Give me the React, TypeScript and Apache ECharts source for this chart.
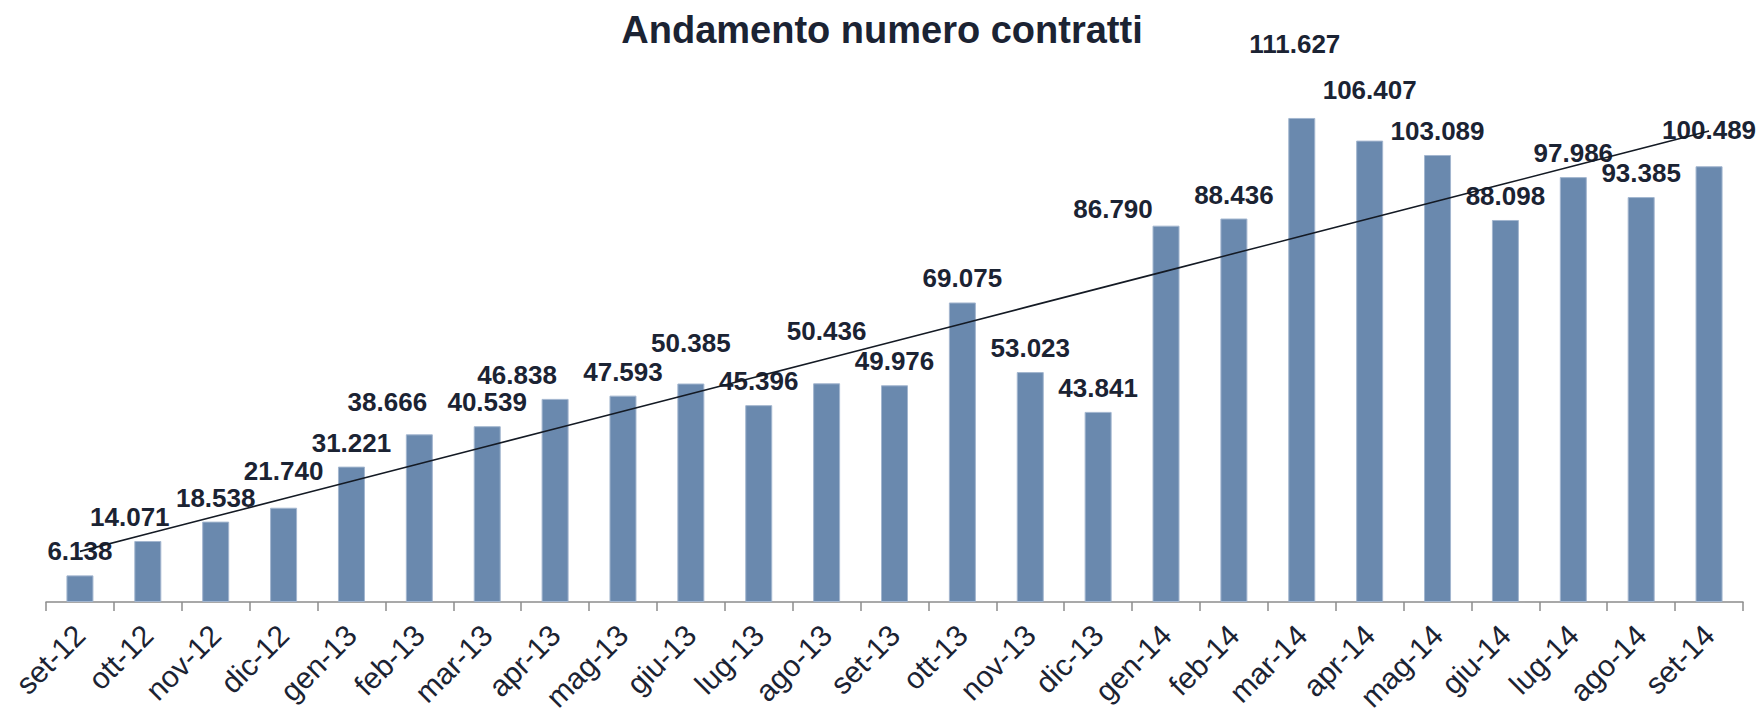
import React, { useEffect, useRef } from "react";
import * as echarts from "echarts";

const months: string[] = [
  "set-12", "ott-12", "nov-12", "dic-12", "gen-13", "feb-13", "mar-13", "apr-13",
  "mag-13", "giu-13", "lug-13", "ago-13", "set-13", "ott-13", "nov-13", "dic-13",
  "gen-14", "feb-14", "mar-14", "apr-14", "mag-14", "giu-14", "lug-14", "ago-14", "set-14",
];

const contracts: number[] = [
  6138, 14071, 18538, 21740, 31221, 38666, 40539, 46838,
  47593, 50385, 45396, 50436, 49976, 69075, 53023, 43841,
  86790, 88436, 111627, 106407, 103089, 88098, 97986, 93385, 100489,
];

// label nudges (style only, px): [dx, dy]
const labelNudges: [number, number][] = [
  [0, 0], [-18, 0], [0, 0], [0, -13], [0, 0], [-32, -8], [0, 0], [-38, 0],
  [0, 0], [0, -17], [0, 0], [0, -28], [0, 0], [0, 0], [0, 0], [0, 0],
  [-53, 7], [0, 0], [-7, -50], [0, -27], [0, 0], [0, 0], [0, 0], [0, 0], [0, -12],
];

const TEXT = "#1b2333";

function fmt(v: number): string {
  return String(v).replace(/\B(?=(\d{3})+(?!\d))/g, ".");
}

function linearTrend(ys: number[]): number[] {
  const n = ys.length;
  const xs = ys.map((_, i) => i + 1);
  const mx = xs.reduce((a, b) => a + b, 0) / n;
  const my = ys.reduce((a, b) => a + b, 0) / n;
  let sxy = 0;
  let sxx = 0;
  for (let i = 0; i < n; i++) {
    sxy += (xs[i] - mx) * (ys[i] - my);
    sxx += (xs[i] - mx) * (xs[i] - mx);
  }
  const slope = sxy / sxx;
  const icpt = my - slope * mx;
  return xs.map((x) => icpt + slope * x);
}

export default function App() {
  const ref = useRef<HTMLDivElement>(null);

  useEffect(() => {
    if (!ref.current) return;
    const chart = echarts.init(ref.current, undefined, { renderer: "svg" });
    const trend = linearTrend(contracts);
    chart.setOption({
      animation: false,
      backgroundColor: "#ffffff",
      title: {
        text: "Andamento numero contratti",
        left: "center",
        top: 6,
        textStyle: {
          fontFamily: "Liberation Sans, Arial, sans-serif",
          fontSize: 38,
          fontWeight: "bold",
          color: TEXT,
        },
      },
      grid: {
        left: 46,
        right: 21,
        top: 38.3,
        bottom: 112,
        containLabel: false,
        outerBoundsMode: "none",
      },
      xAxis: {
        type: "category",
        data: months,
        boundaryGap: true,
        axisLine: { lineStyle: { color: "#8c8c8c", width: 1.5 } },
        axisTick: { show: true, length: 9, lineStyle: { color: "#8c8c8c", width: 1.5 } },
        axisLabel: {
          interval: 0,
          rotate: 45,
          margin: 28,
          fontFamily: "Liberation Sans, Arial, sans-serif",
          fontSize: 30,
          color: TEXT,
        },
      },
      yAxis: {
        type: "value",
        min: 0,
        max: 130000,
        show: false,
        splitLine: { show: false },
      },
      series: [
        {
          type: "bar",
          name: "Contratti",
          data: contracts.map((v, i) => ({
            value: v,
            label: { offset: labelNudges[i] },
          })),
          barWidth: 27,
          itemStyle: { color: "#6a89ae", borderColor: "#a3b6cf", borderWidth: 1 },
          label: {
            show: true,
            position: "top",
            distance: 11,
            formatter: (p: any) => fmt(p.value),
            fontFamily: "Liberation Sans, Arial, sans-serif",
            fontSize: 26,
            fontWeight: "bold",
            color: TEXT,
          },
          z: 2,
        },
        {
          type: "line",
          name: "Tendenza",
          data: trend,
          symbol: "none",
          lineStyle: { color: "#141a24", width: 1.6 },
          label: { show: false },
          z: 5,
        },
      ],
    });
    return () => chart.dispose();
  }, []);

  return (
    <div
      ref={ref}
      style={{ position: "absolute", left: 0, top: 0, width: 1764, height: 714 }}
    />
  );
}
